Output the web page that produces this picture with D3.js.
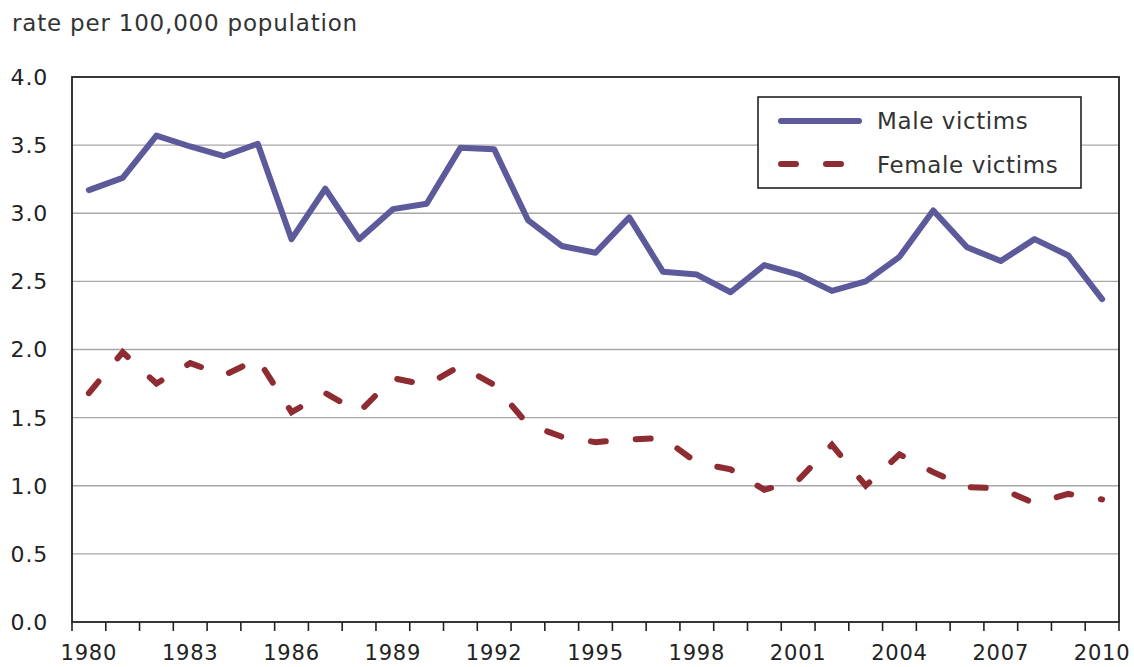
<!DOCTYPE html>
<html>
<head>
<meta charset="utf-8">
<script src="https://cdn.jsdelivr.net/npm/d3@7"></script>
<style>
  html, body { margin: 0; padding: 0; background: #fff; }
  svg { display: block; font-family: "DejaVu Sans", Verdana, sans-serif; }
</style>
</head>
<body>
<svg id="chart" width="1134" height="667"></svg>
<script>
// ---- data ----
const years = d3.range(1980, 2011);
const maleVictims = [3.17, 3.26, 3.57, 3.49, 3.42, 3.51, 2.81, 3.18, 2.81, 3.03, 3.07,
                     3.48, 3.47, 2.95, 2.76, 2.71, 2.97, 2.57, 2.55, 2.42, 2.62,
                     2.55, 2.43, 2.50, 2.68, 3.02, 2.75, 2.65, 2.81, 2.69, 2.37];
const femaleVictims = [1.68, 1.98, 1.75, 1.90, 1.81, 1.93, 1.54, 1.68, 1.54, 1.79, 1.74,
                       1.88, 1.74, 1.45, 1.36, 1.32, 1.34, 1.35, 1.17, 1.12, 0.97,
                       1.04, 1.30, 1.00, 1.23, 1.10, 0.99, 0.98, 0.87, 0.94, 0.90];
const yTicks = [0, 0.5, 1.0, 1.5, 2.0, 2.5, 3.0, 3.5, 4.0];
const xLabelYears = [1980, 1983, 1986, 1989, 1992, 1995, 1998, 2001, 2004, 2007, 2010];
const seriesNames = ["Male victims", "Female victims"];
const yTitle = "rate per 100,000 population";

// ---- layout ----
const svg = d3.select("#chart");
const L = 72, R = 1119, T = 77, B = 622;
const maleColor = "#5d5a9b", femaleColor = "#8e2c31";

const x = d3.scaleBand().domain(years).range([L, R]).padding(0);
const xc = d => x(d) + x.bandwidth() / 2;
const y = d3.scaleLinear().domain([0, 4]).range([B, T]);

// title
svg.append("text").attr("x", 12).attr("y", 31)
  .attr("font-size", 23).attr("letter-spacing", 0.8).attr("fill", "#333").text(yTitle);

// grid
svg.append("g").selectAll("line").data(yTicks.filter(v => v > 0 && v < 4)).join("line")
  .attr("x1", L).attr("x2", R).attr("y1", d => y(d)).attr("y2", d => y(d))
  .attr("stroke", "#a8a8a8").attr("stroke-width", 1.3);

// y axis labels
svg.append("g").selectAll("text").data(yTicks).join("text")
  .attr("x", 48).attr("y", d => y(d)).attr("dy", "0.36em")
  .attr("text-anchor", "end").attr("font-size", 22).attr("letter-spacing", 0.8)
  .attr("fill", "#222")
  .text(d => d3.format(".1f")(d));

// x tick marks at band boundaries
const boundaries = years.map(d => x(d)).concat([R]);
svg.append("g").selectAll("line").data(boundaries).join("line")
  .attr("x1", d => d).attr("x2", d => d).attr("y1", B).attr("y2", B + 9)
  .attr("stroke", "#222").attr("stroke-width", 1.6);

// x labels
svg.append("g").selectAll("text").data(xLabelYears).join("text")
  .attr("x", d => xc(d)).attr("y", 660)
  .attr("text-anchor", "middle").attr("font-size", 21).attr("letter-spacing", 0.8)
  .attr("fill", "#222")
  .text(d => d);

// frame
svg.append("rect").attr("x", L).attr("y", T).attr("width", R - L).attr("height", B - T)
  .attr("fill", "none").attr("stroke", "#222").attr("stroke-width", 1.8);

// lines
const line = d3.line().x((d, i) => xc(years[i])).y(d => y(d));
svg.append("path").datum(maleVictims).attr("d", line)
  .attr("fill", "none").attr("stroke", maleColor).attr("stroke-width", 6)
  .attr("stroke-linejoin", "round").attr("stroke-linecap", "round");
svg.append("path").datum(femaleVictims).attr("d", line)
  .attr("fill", "none").attr("stroke", femaleColor).attr("stroke-width", 6)
  .attr("stroke-linecap", "round").attr("stroke-dasharray", "15,30");

// legend
const lg = svg.append("g");
lg.append("rect").attr("x", 758).attr("y", 97).attr("width", 323).attr("height", 91)
  .attr("fill", "#fff").attr("stroke", "#222").attr("stroke-width", 1.6);
lg.append("line").attr("x1", 781).attr("x2", 859).attr("y1", 121).attr("y2", 121)
  .attr("stroke", maleColor).attr("stroke-width", 6).attr("stroke-linecap", "round");
lg.append("line").attr("x1", 781).attr("x2", 859).attr("y1", 164).attr("y2", 164)
  .attr("stroke", femaleColor).attr("stroke-width", 6).attr("stroke-linecap", "round")
  .attr("stroke-dasharray", "15,30");
lg.selectAll("text").data(seriesNames).join("text")
  .attr("x", 877).attr("y", (d, i) => 129 + i * 44)
  .attr("font-size", 23).attr("letter-spacing", 0.6).attr("fill", "#333").text(d => d);
</script>
</body>
</html>
